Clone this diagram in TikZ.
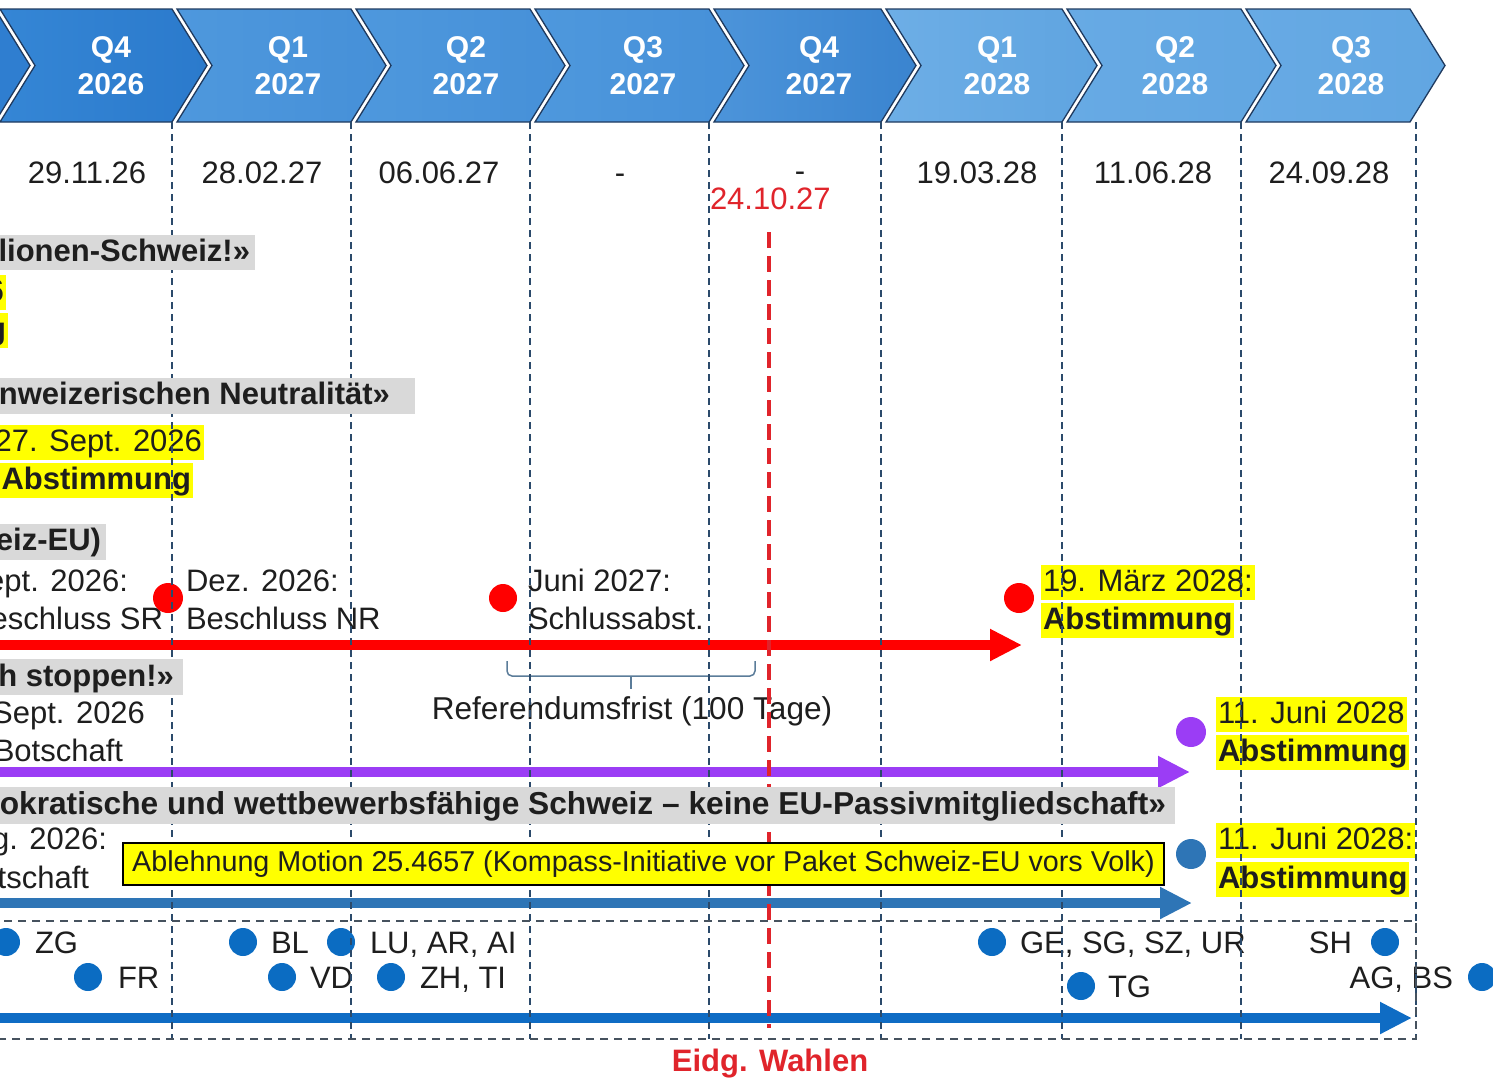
\documentclass[tikz,border=0pt]{standalone}
\usepackage{fontspec}
\setmainfont{Liberation Sans}
\usetikzlibrary{arrows.meta}
\definecolor{txtc}{HTML}{1E1E1E}
\definecolor{grayb}{HTML}{D9D9D9}
\definecolor{yel}{HTML}{FFFF00}
\definecolor{redc}{HTML}{FF0000}
\definecolor{redd}{HTML}{E0242B}
\definecolor{purp}{HTML}{9B3DF5}
\definecolor{blueF}{HTML}{2E75B6}
\definecolor{blueS}{HTML}{0F6CC4}
\definecolor{dotb}{HTML}{0B6CC2}
\definecolor{gridc}{HTML}{2B4A6B}
\definecolor{rectc}{HTML}{46525E}
\definecolor{chevline}{HTML}{1F3A5F}
\definecolor{bracec}{HTML}{5B7C99}
\definecolor{Cz}{HTML}{2F7ED0}
\definecolor{Ca}{HTML}{3586D5}\definecolor{Cb}{HTML}{2B7ACC}
\definecolor{Cc}{HTML}{4E98DD}\definecolor{Cd}{HTML}{4690D8}
\definecolor{Ce}{HTML}{4C94DA}\definecolor{Cf}{HTML}{3A84CF}
\definecolor{Cg}{HTML}{6DAEE6}\definecolor{Ch}{HTML}{5FA4E0}
\definecolor{Ci}{HTML}{67AAE4}\definecolor{Cj}{HTML}{61A6E2}
\newcommand{\chevron}[4]{\shadedraw[left color=#3,right color=#4,draw=chevline,line width=1.3pt] (#1+5,9) -- (#2,9) -- (#2+35,65.5) -- (#2,122) -- (#1+5,122) -- (#1+40,65.5) -- cycle;}
\begin{document}
\begin{tikzpicture}[x=1pt,y=-1pt,
  every node/.style={inner sep=0pt,outer sep=0pt},
  txt/.style={font=\fontsize{31}{36}\selectfont,text=txtc},
  btxt/.style={font=\fontsize{31}{36}\selectfont\bfseries,text=txtc},
  hl/.style={fill=yel,text height=23pt,text depth=6pt,inner ysep=3pt,inner xsep=2pt},
  qtxt/.style={font=\fontsize{30}{36}\selectfont\bfseries,text=white,anchor=base},
  bigdot/.style={circle,fill=#1,minimum size=30pt,inner sep=0pt},
  cdot/.style={circle,fill=dotb,minimum size=28pt,inner sep=0pt},
  qline/.style={draw=gridc,line width=1.5pt,dash pattern=on 7pt off 5pt},
  timebar/.style={draw=#1,line width=10pt,-{Triangle[length=32pt,width=30pt]}},
]
\useasboundingbox (0,0) rectangle (1493,1077);

% ---- quarter chevrons
\chevron{-200}{-5}{Cz}{Cz}
\chevron{-5}{172}{Ca}{Cb}
\chevron{172}{351}{Cc}{Cd}
\chevron{351}{530}{Cc}{Cd}
\chevron{530}{709}{Cc}{Cd}
\chevron{709}{881}{Ce}{Cf}
\chevron{881}{1062}{Cg}{Ch}
\chevron{1062}{1241}{Ci}{Cj}
\chevron{1241}{1410}{Ci}{Cj}

\node[qtxt] (qa) at (111,57) {Q4};   \node[qtxt] (ya) at (111,94) {2026};
\node[qtxt] (qb) at (288,57) {Q1};   \node[qtxt] (yb) at (288,94) {2027};
\node[qtxt] (qc) at (466,57) {Q2};   \node[qtxt] (yc) at (466,94) {2027};
\node[qtxt] (qd) at (643,57) {Q3};   \node[qtxt] (yd) at (643,94) {2027};
\node[qtxt] (qe) at (819,57) {Q4};   \node[qtxt] (ye) at (819,94) {2027};
\node[qtxt] (qf) at (997,57) {Q1};   \node[qtxt] (yf) at (997,94) {2028};
\node[qtxt] (qg) at (1175,57) {Q2};  \node[qtxt] (yg) at (1175,94) {2028};
\node[qtxt] (qh) at (1351,57) {Q3};  \node[qtxt] (yh) at (1351,94) {2028};

% ---- voting dates
\node[txt,anchor=base] (da) at (87,183) {29.11.26};
\node[txt,anchor=base] (db) at (262,183) {28.02.27};
\node[txt,anchor=base] (dc) at (439,183) {06.06.27};
\node[txt,anchor=base] (dd) at (620,183) {-};
\node[txt,anchor=base] (de) at (800,181) {-};
\node[txt,anchor=base] (df) at (977,183) {19.03.28};
\node[txt,anchor=base] (dg) at (1153,183) {11.06.28};
\node[txt,anchor=base] (dh) at (1329,183) {24.09.28};
\node[txt,anchor=base west,text=redd] (dw) at (710,209) {24.10.27};

% ---- time bars
\coordinate (ra) at (-10,645);  \coordinate (rb) at (1022,645);
\coordinate (pa) at (-10,772);  \coordinate (pb) at (1190,772);
\coordinate (ba) at (-10,903);  \coordinate (bb) at (1192,903);
\coordinate (ka) at (-10,1018); \coordinate (kb) at (1412,1018);
\draw[timebar=redc] (ra) -- (rb);
\draw[timebar=purp] (pa) -- (pb);
\draw[timebar=blueF] (ba) -- (bb);
\draw[timebar=blueS] (ka) -- (kb);

% ---- row 1
\node[txt,hl,anchor=base east] (r1a) at (6,301) {6};
\node[btxt,hl,anchor=base east] (r1b) at (8,339) {g};

% ---- row 2
\node[txt,hl,anchor=base east] (r2a) at (204,451) {27. Sept. 2026};
\node[btxt,hl,anchor=base east] (r2b) at (193,489) {Abstimmung};

% ---- row 3
\node[txt,anchor=base east] (r3a) at (128,591) {ept. 2026:};
\node[txt,anchor=base east] (r3b) at (163,629) {eschluss SR};
\node[bigdot=redc] (rd1) at (168,598) {};
\node[txt,anchor=base west] (r3c) at (186,591) {Dez. 2026:};
\node[txt,anchor=base west] (r3d) at (186,629) {Beschluss NR};
\node[bigdot=redc,minimum size=28pt] (rd2) at (503,598) {};
\node[txt,anchor=base west] (r3e) at (528,591) {Juni 2027:};
\node[txt,anchor=base west] (r3f) at (528,629) {Schlussabst.};
\node[bigdot=redc] (rd3) at (1019,598) {};
\node[txt,hl,anchor=base west] (r3g) at (1041,591) {19. März 2028:};
\node[btxt,hl,anchor=base west] (r3h) at (1041,629) {Abstimmung};

% referendum bracket
\draw[bracec,line width=1.5pt,rounded corners=5pt] (507,661) -- (507,676) -- (755,676) -- (755,661);
\draw[bracec,line width=1.5pt] (631,676) -- (631,689);
\node[txt,anchor=base,font=\fontsize{31.6}{36}\selectfont] (ref) at (632,719) {Referendumsfrist (100 Tage)};

% ---- row 4
\node[txt,anchor=base east] (r4a) at (145,723) {Sept. 2026};
\node[txt,anchor=base east] (r4b) at (123,761) {Botschaft};
\node[bigdot=purp] (pd) at (1191,732) {};
\node[txt,hl,anchor=base west] (r4c) at (1216,723) {11. Juni 2028};
\node[btxt,hl,anchor=base west] (r4d) at (1216,761) {Abstimmung};

% ---- row 5
\node[txt,anchor=base east] (r5a) at (107,849) {g. 2026:};
\node[txt,anchor=base east] (r5b) at (89,888) {tschaft};
\node[bigdot=blueF] (bd) at (1191,854) {};
\node[txt,hl,anchor=base west] (r5c) at (1216,849) {11. Juni 2028:};
\node[btxt,hl,anchor=base west] (r5d) at (1216,888) {Abstimmung};

% ---- row 6: cantons
\node[cdot] (cz) at (6,942) {};    \node[txt,anchor=base west] (tz) at (35,953) {ZG};
\node[cdot] (cf) at (88,977) {};   \node[txt,anchor=base west] (tf) at (118,988) {FR};
\node[cdot] (cb) at (243,942) {};  \node[txt,anchor=base west] (tb) at (271,953) {BL};
\node[cdot] (cv) at (282,977) {};  \node[txt,anchor=base west] (tv) at (310,988) {VD};
\node[cdot] (cl) at (341,942) {};  \node[txt,anchor=base west] (tl) at (370,953) {LU, AR, AI};
\node[cdot] (ch) at (391,977) {};  \node[txt,anchor=base west] (th) at (420,988) {ZH, TI};
\node[cdot] (cg) at (992,942) {};  \node[txt,anchor=base west] (tg) at (1020,953) {GE, SG, SZ, UR};
\node[cdot] (ct) at (1081,986) {}; \node[txt,anchor=base west] (tt) at (1108,997) {TG};
\node[cdot] (cs) at (1385,942) {}; \node[txt,anchor=base east] (ts) at (1352,953) {SH};
\node[cdot] (ca) at (1482,977) {}; \node[txt,anchor=base east] (ta) at (1453,988) {AG, BS};

% ---- grid lines
\foreach \x in {172,351,530,709,881,1062,1241,1416} \draw[qline] (\x,122) -- (\x,1039);
\draw[draw=rectc,line width=1.8pt,dash pattern=on 8pt off 6pt] (-10,921) -- (1416,921) -- (1416,1039) -- (-10,1039);
\coordinate (ea) at (769,232); \coordinate (eb) at (769,1028);
\draw[redd,line width=4pt,dash pattern=on 16pt off 8pt] (ea) -- (eb);

% ---- gray headings (on top)
\fill[grayb] (-5,235) rectangle (255,270);
\node[btxt,anchor=base east] (h1) at (250,261) {lionen-Schweiz!»};
\fill[grayb] (-5,378) rectangle (415,414);
\node[btxt,anchor=base east] (h2) at (390,404) {nweizerischen Neutralität»};
\fill[grayb] (-5,524) rectangle (106,560);
\node[btxt,anchor=base east] (h3) at (101,550) {eiz-EU)};
\fill[grayb] (-5,659) rectangle (183,695);
\node[btxt,anchor=base east] (h4) at (174,686) {h stoppen!»};
\fill[grayb] (-5,787) rectangle (1175,824);
\node[btxt,anchor=base east,font=\fontsize{31.7}{36}\selectfont\bfseries] (h5) at (1166,814) {okratische und wettbewerbsfähige Schweiz – keine EU-Passivmitgliedschaft»};

\node[draw=black,line width=2pt,fill=yel,minimum width=1041pt,minimum height=42pt,font=\fontsize{28.7}{32}\selectfont,text=txtc] (mot) at (643.5,864) {Ablehnung Motion 25.4657 (Kompass-Initiative vor Paket Schweiz-EU vors Volk)};

\node[btxt,text=redd,anchor=base] (ew) at (770,1071) {Eidg. Wahlen};
\end{tikzpicture}
\end{document}
